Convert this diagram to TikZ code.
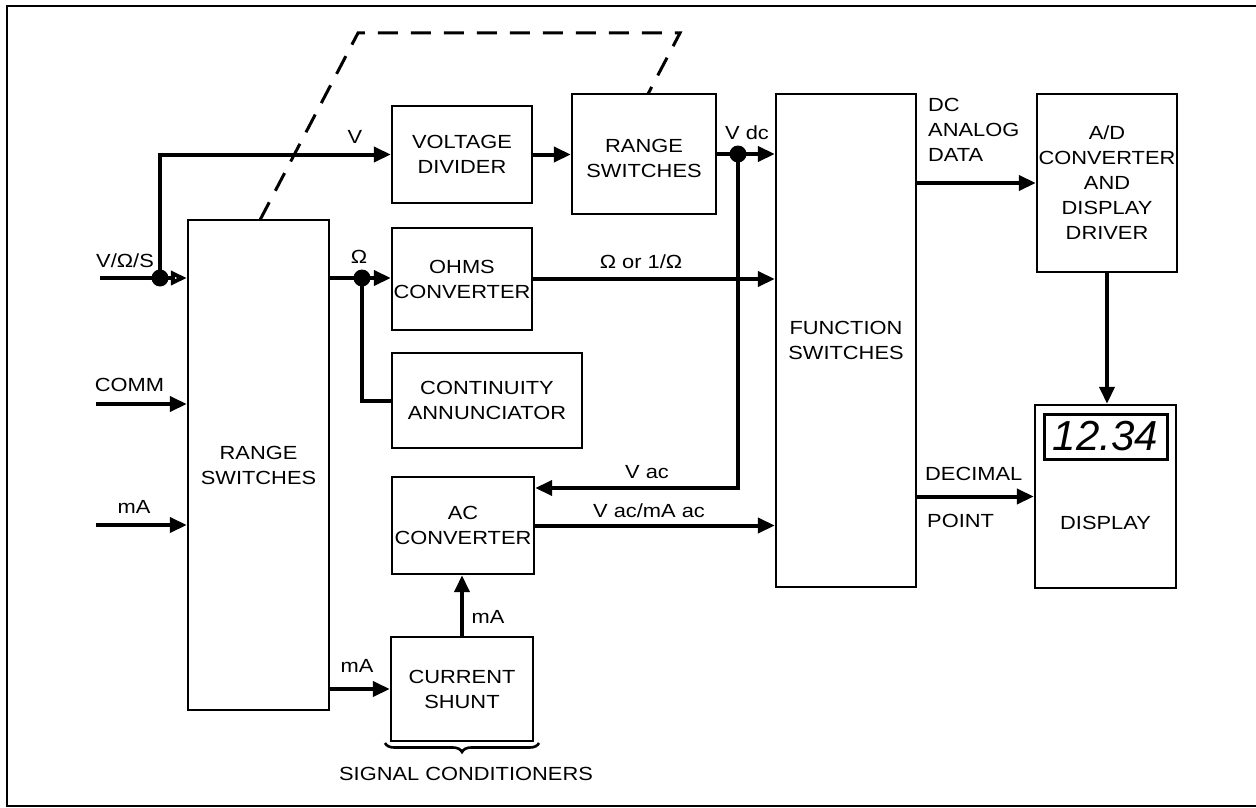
\documentclass[tikz,border=0pt]{standalone}
\usepackage{fontspec}
\setmainfont{Liberation Sans}[FakeStretch=1.15]
\newfontfamily\lcdfont{Liberation Sans}
\usetikzlibrary{arrows.meta,decorations.pathreplacing,calc}
\begin{document}
\begin{tikzpicture}[x=1pt,y=-1pt,
  every node/.style={font=\fontsize{19}{25}\selectfont, inner sep=0pt},
  box/.style={draw, line width=2.4pt, rectangle, align=center, inner sep=0pt},
  conn/.style={line width=4pt},
  arr/.style={conn,-{Triangle[length=17pt,width=15pt]}},
  oarr/.style={conn,-{Triangle[open,length=16pt,width=14pt]}},
  jdot/.style={circle, fill, minimum size=17pt, inner sep=0pt},
  dashlink/.style={line width=3pt, dash pattern=on 20pt off 13pt}
]
\useasboundingbox (0,0) rectangle (1256,808);

% frame
\draw[line width=2pt] (1262,6) -- (7,6) -- (7,806) -- (1262,806);

% boxes
\node[box, minimum width=141pt, minimum height=490pt] (rsb) at (258.5,465) {RANGE\\SWITCHES};
\node[box, minimum width=140pt, minimum height=97pt] (vd) at (462,154.5) {VOLTAGE\\DIVIDER};
\node[box, minimum width=144pt, minimum height=120pt] (rs2) at (644,154) {};
\node (rs2txt) at (644,158) [align=center] {RANGE\\SWITCHES};
\node[box, minimum width=140pt, minimum height=102pt] (ohm) at (462,279) {OHMS\\CONVERTER};
\node[box, minimum width=190pt, minimum height=95pt] (ca) at (487,400.5) {CONTINUITY\\ANNUNCIATOR};
\node[box, minimum width=142pt, minimum height=97pt] (ac) at (463,525.5) {AC\\CONVERTER};
\node[box, minimum width=142pt, minimum height=104pt] (cs) at (462,689) {CURRENT\\SHUNT};
\node[box, minimum width=140pt, minimum height=493pt] (fs) at (846,340.5) {FUNCTION\\SWITCHES};
\node[box, minimum width=140pt, minimum height=178pt] (ad) at (1107,183) {A/D\\CONVERTER\\AND\\DISPLAY\\DRIVER};
\node[box, minimum width=141pt, minimum height=183pt] (disp) at (1105.5,496.5) {};
\node[draw, line width=3pt, minimum width=123pt, minimum height=45pt,
      font={\lcdfont\itshape\fontsize{42}{42}\selectfont}] (lcd) at (1105.5,436.5) {12.34};
\node (disptxt) at (1105.5,523) {DISPLAY};

% junction dots
\node[jdot] (d1) at (160,278) {};
\node[jdot] (d2) at (362,278) {};
\node[jdot] (d3) at (738,154) {};

% free ends
\coordinate (vin) at (100,278);
\coordinate (commin) at (96,404);
\coordinate (main) at (96,525);
\coordinate (vacc) at (738,488);

% inputs
\draw[conn] (vin) -- (d1.center);
\draw[oarr] (d1.center) -- (d1 -| rsb.west);
\draw[arr] (d1.center) |- (vd.west);
\draw[arr] (commin) -- (commin -| rsb.west);
\draw[arr] (main) -- (main -| rsb.west);

% voltage path
\draw[arr] (vd.east) -- (vd.east -| rs2.west);
\draw[conn] (rs2.east |- d3) -- (d3.center);
\draw[arr] (d3.center) -- (d3 -| fs.west);
\draw[arr] (d3.center) -- (vacc) -- (vacc -| ac.east);

% ohms path
\draw[conn] (d2 -| rsb.east) -- (d2.center);
\draw[arr] (d2.center) -- (d2 -| ohm.west);
\draw[conn] (d2.center) |- (ca.west);
\draw[arr] (ohm.east) -- (ohm.east -| fs.west);

% ac path
\draw[arr] (ac.east) -- (ac.east -| fs.west);
\draw[arr] (cs.north) -- (cs.north |- ac.south);
\draw[arr] (cs.west -| rsb.east) -- (cs.west);

% outputs
\draw[arr] (fs.east |- ad.west) -- (ad.west);
\draw[arr] (fs.east |- disp.west) -- (disp.west);
\draw[arr] (ad.south) -- (ad.south |- disp.north);

% mechanical link (dashed)
\coordinate (k0) at (260,220);
\coordinate (k1) at (358,33);
\coordinate (k2) at (680,33);
\coordinate (k3) at (648,94);
\draw[dashlink] (k0) -- (k1) -- (k2) -- (k3);

% brace
\draw[line width=2.6pt, decorate, decoration={brace, mirror, amplitude=9pt}] (385,743) -- (539,743);

% labels
\node (lvos) at (125,261) {V/Ω/S};
\node (lv) at (355,137) {V};
\node (lom) at (359,257) {Ω};
\node (lvdc) at (747,133) {V dc};
\node (lomor) at (641,262) {Ω or 1/Ω};
\node (lvac) at (647,472) {V ac};
\node (lvacma) at (649,511) {V ac/mA ac};
\node (lma1) at (488,617) {mA};
\node (lma2) at (357,666) {mA};
\node (lcomm) at (129.5,385) {COMM};
\node (lma3) at (134,507) {mA};
\node[anchor=north west, align=left] (ldc) at (928,98) {DC\\ANALOG\\DATA};
\node[anchor=west] (ldec) at (925,474) {DECIMAL};
\node[anchor=west] (lpt) at (927,521) {POINT};
\node (lsig) at (466,774) {SIGNAL CONDITIONERS};
\end{tikzpicture}
\end{document}
